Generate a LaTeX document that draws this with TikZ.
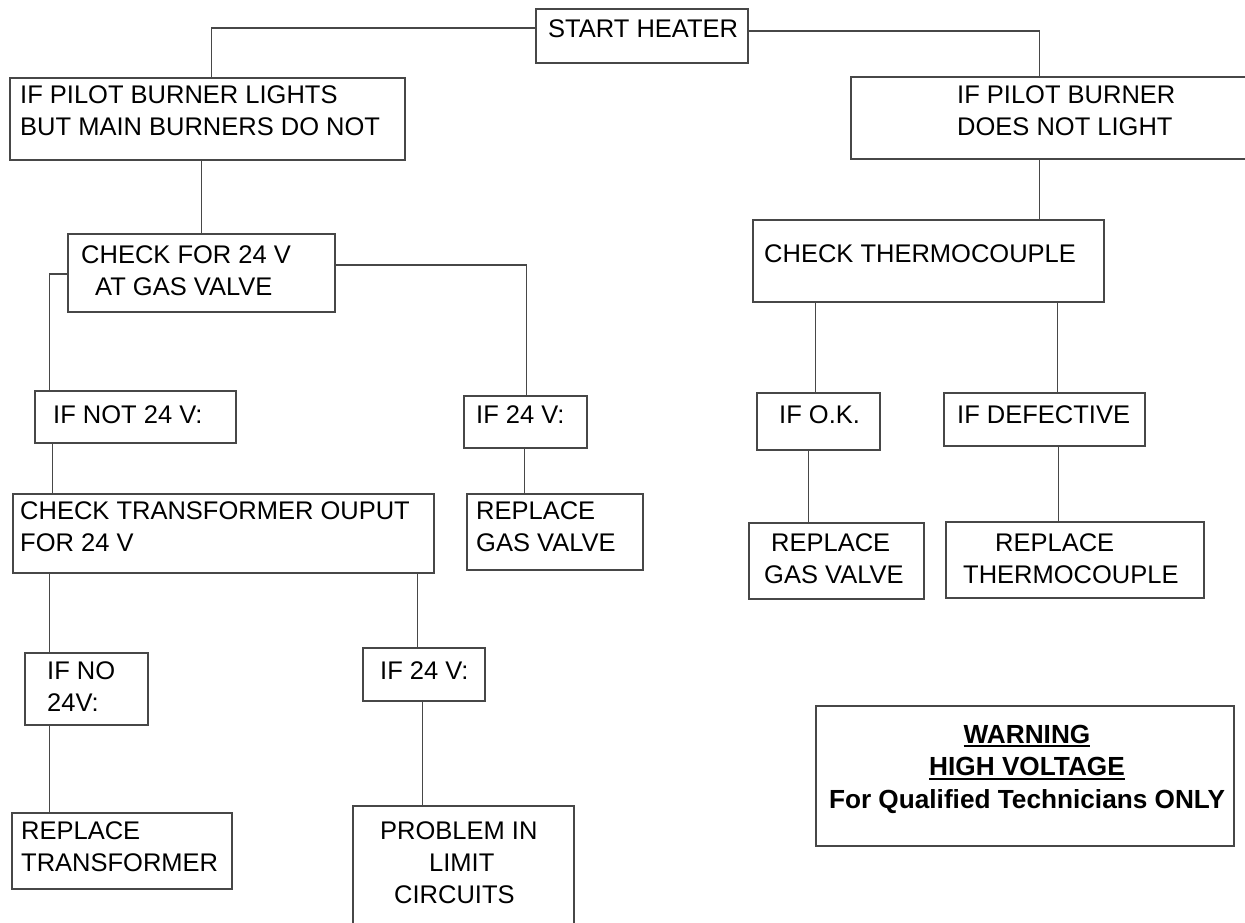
\documentclass[tikz,border=0pt]{standalone}
\usepackage{fontspec}
\setmainfont{Liberation Sans}
\definecolor{ln}{gray}{0.28}
\newcommand\stk[1]{\vtop{\halign{##\hfil\cr#1\crcr}}}
\newcommand\stkc[1]{\vtop{\halign{\hfil##\hfil\cr#1\crcr}}}
\newcommand\ulbox[1]{\setbox0=\hbox{#1}\rlap{\vrule height -2pt depth 4pt width \wd0}\box0}
\begin{document}
\begin{tikzpicture}[x=1pt,y=-1pt,
  box/.style={draw=ln,line width=1.3pt,inner sep=0pt,rectangle},
  txt/.style={anchor=base west,inner sep=0pt,font=\fontsize{25.5pt}{32pt}\selectfont},
  wtxt/.style={anchor=base,inner sep=0pt,font=\fontsize{26.2pt}{32.5pt}\selectfont\bfseries},
  conn/.style={draw=ln,line width=1.2pt}]
\useasboundingbox (0,0) rectangle (1245,922);
\fill[white] (0,0) rectangle (1245,922);
\clip (0,0) rectangle (1245,922);
% boxes
\node[box,minimum width=212pt,minimum height=54pt] (start) at (642,36) {};
\node[box,minimum width=395pt,minimum height=82pt] (pilotL) at (207.5,119) {};
\node[box,minimum width=411pt,minimum height=82pt] (pilotR) at (1056.5,118) {};
\node[box,minimum width=267pt,minimum height=78pt] (check24) at (201.5,273) {};
\node[box,minimum width=351pt,minimum height=82pt] (checkTC) at (928.5,261) {};
\node[box,minimum width=201pt,minimum height=52pt] (ifnot) at (135.5,417) {};
\node[box,minimum width=123pt,minimum height=52pt] (if24a) at (525.5,422) {};
\node[box,minimum width=123pt,minimum height=57pt] (ifok) at (818.5,421.5) {};
\node[box,minimum width=201pt,minimum height=53pt] (ifdef) at (1044.5,419.5) {};
\node[box,minimum width=421pt,minimum height=79pt] (checkT) at (223.5,533.5) {};
\node[box,minimum width=176pt,minimum height=76pt] (repGV) at (555,532) {};
\node[box,minimum width=175pt,minimum height=76pt] (repGV2) at (836.5,561) {};
\node[box,minimum width=258pt,minimum height=76pt] (repTC) at (1075,560) {};
\node[box,minimum width=123pt,minimum height=72pt] (ifno) at (86.5,689) {};
\node[box,minimum width=122pt,minimum height=53pt] (if24b) at (424,674.5) {};
\node[box,minimum width=220pt,minimum height=76pt] (repT) at (122,851) {};
\node[box,minimum width=221pt,minimum height=134pt] (problem) at (463.5,873) {};
\node[box,minimum width=418pt,minimum height=140pt] (warn) at (1025,776) {};
% texts
\node[txt] (t-start) at (548,37) {START HEATER};
\node[txt] (t-pilotL) at (20,103) {\stk{IF PILOT BURNER LIGHTS\cr BUT MAIN BURNERS DO NOT}};
\node[txt] (t-pilotR) at (957,103) {\stk{IF PILOT BURNER\cr DOES NOT LIGHT}};
\node[txt] (t-check24) at (81,263) {\stk{CHECK FOR 24 V\cr \hspace*{14pt}AT GAS VALVE}};
\node[txt] (t-checkTC) at (764,262) {CHECK THERMOCOUPLE};
\node[txt] (t-ifnot) at (53,423) {IF NOT 24 V:};
\node[txt] (t-if24a) at (476,423) {IF 24 V:};
\node[txt] (t-ifok) at (779,423) {IF O.K.};
\node[txt] (t-ifdef) at (957,423) {IF DEFECTIVE};
\node[txt] (t-checkT) at (20,519) {\stk{CHECK TRANSFORMER OUPUT\cr FOR 24 V}};
\node[txt] (t-repGV) at (476,519) {\stk{REPLACE\cr GAS VALVE}};
\node[txt] (t-repGV2) at (764,551) {\stk{\hspace*{7pt}REPLACE\cr GAS VALVE}};
\node[txt] (t-repTC) at (963,551) {\stk{\hspace*{32pt}REPLACE\cr THERMOCOUPLE}};
\node[txt] (t-ifno) at (47,679) {\stk{IF NO\cr 24V:}};
\node[txt] (t-if24b) at (380,679) {IF 24 V:};
\node[txt] (t-repT) at (21,839) {\stk{REPLACE\cr TRANSFORMER}};
\node[txt] (t-problem) at (380,839) {\stk{PROBLEM IN\cr \hspace*{49pt}LIMIT\cr \hspace*{14pt}CIRCUITS}};
\node[wtxt] (t-warn) at (1027,743) {\stkc{\ulbox{WARNING}\cr \ulbox{HIGH VOLTAGE}\cr For Qualified Technicians ONLY}};
% connectors
\draw[conn] ([yshift=8pt]start.west) -| ([xshift=202pt]pilotL.north west);
\draw[conn] ([yshift=5pt]start.east) -| ([xshift=189pt]pilotR.north west);
\draw[conn] ([xshift=192pt]pilotL.south west) -- ([xshift=134pt]check24.north west);
\draw[conn] ([yshift=-1pt]check24.west) -| ([xshift=15pt]ifnot.north west);
\draw[conn] ([yshift=8pt]check24.east) -| ([xshift=63pt]if24a.north west);
\draw[conn] ([xshift=18pt]ifnot.south west) -- ([xshift=40pt]checkT.north west);
\draw[conn] ([xshift=61pt]if24a.south west) -- ([xshift=58pt]repGV.north west);
\draw[conn] ([xshift=37pt]checkT.south west) -- ([xshift=25pt]ifno.north west);
\draw[conn] ([xshift=405pt]checkT.south west) -- ([xshift=55pt]if24b.north west);
\draw[conn] ([xshift=25pt]ifno.south west) -- ([xshift=38pt]repT.north west);
\draw[conn] ([xshift=60pt]if24b.south west) -- ([xshift=70pt]problem.north west);
\draw[conn] ([xshift=189pt]pilotR.south west) -- ([xshift=287pt]checkTC.north west);
\draw[conn] ([xshift=63pt]checkTC.south west) -- ([xshift=59pt]ifok.north west);
\draw[conn] ([xshift=305pt]checkTC.south west) -- ([xshift=114pt]ifdef.north west);
\draw[conn] ([xshift=52pt]ifok.south west) -- ([xshift=60pt]repGV2.north west);
\draw[conn] ([xshift=115pt]ifdef.south west) -- ([xshift=113pt]repTC.north west);
\end{tikzpicture}
\end{document}
